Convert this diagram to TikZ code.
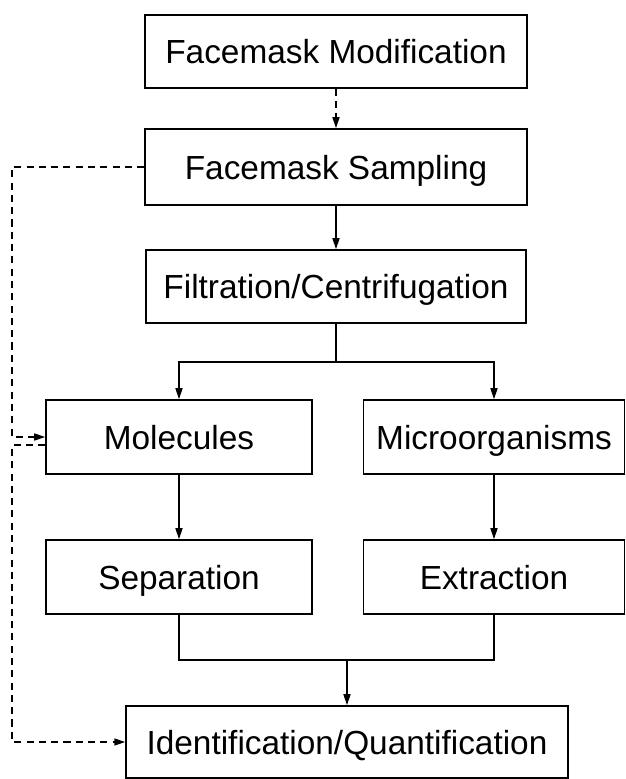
\documentclass[tikz,border=0pt]{standalone}
\usepackage{fontspec}
\setmainfont{Liberation Sans}
\usetikzlibrary{arrows.meta,calc}
\tikzset{
  >={Triangle[length=2.2mm,width=1.4mm]},
  stage/.style={draw,line width=0.9pt,inner sep=0pt,font=\fontsize{19}{22}\selectfont,
    text height=13.7pt,text depth=0pt},
  link/.style={line width=0.9pt},
  dashlink/.style={line width=0.9pt,dash pattern=on 4pt off 3pt}
}
\begin{document}
\begin{tikzpicture}[x=0.02cm,y=-0.02cm]
    \useasboundingbox (0,0) rectangle (626,779);
    \node[stage,minimum width=7.64cm,minimum height=1.46cm] (mod) at (336,51.5) {Facemask Modification};
    \node[stage,minimum width=7.64cm,minimum height=1.52cm] (samp) at (336,167) {Facemask Sampling};
    \node[stage,minimum width=7.6cm,minimum height=1.46cm] (filt) at (336,286.5) {Filtration/Centrifugation};
    \node[stage,minimum width=5.32cm,minimum height=1.48cm] (mol) at (179,437) {Molecules};
    \node[stage,minimum width=5.22cm,minimum height=1.48cm] (micro) at (494,437) {Microorganisms};
    \node[stage,minimum width=5.32cm,minimum height=1.48cm] (sep) at (179,577) {Separation};
    \node[stage,minimum width=5.22cm,minimum height=1.48cm] (ext) at (494,577) {Extraction};
    \node[stage,minimum width=8.84cm,minimum height=1.44cm] (ident) at (347,742) {Identification/Quantification};
    \coordinate (split) at (336,362);
    \coordinate (join) at (347,660);
    \draw[dashlink,->] (mod.south)--(samp.north);
    \draw[link,->] (samp.south)--(filt.north);
    \draw[link] (filt.south)--(split);
    \draw[link,->] (split) -| (mol.north);
    \draw[link,->] (split) -| (micro.north);
    \draw[link,->] (mol.south)--(sep.north);
    \draw[link,->] (micro.south)--(ext.north);
    \draw[link] (sep.south) |- (join) -| (ext.south);
    \draw[link,->] (join)--(ident.north);
    \draw[dashlink,->] (samp.west) -- ++(-132,0) |- (mol.west);
    \draw[dashlink,->] ($(mol.west)+(0,8)$) -- ++(-33,0) |- (ident.west);
\end{tikzpicture}
\end{document}
